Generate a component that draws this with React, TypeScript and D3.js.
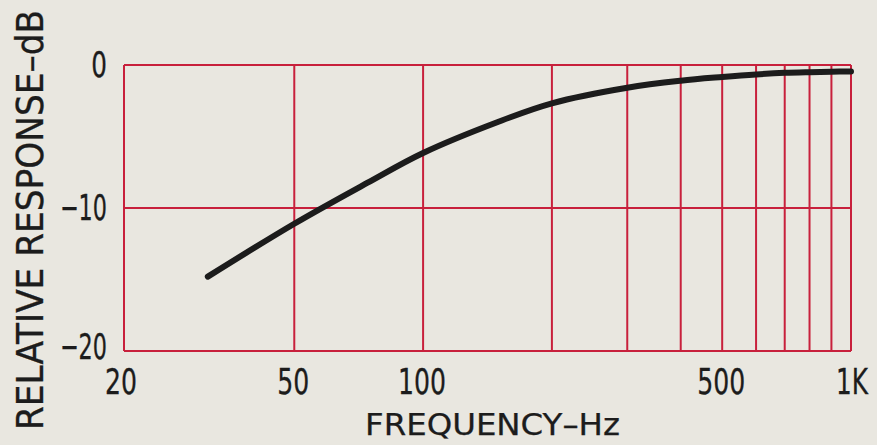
import React from "react";
import * as d3 from "d3";

const freqs = [31.4, 50, 74, 100, 149, 200, 300, 400, 500, 600, 700, 800, 900, 1000];
const response = [-14.8, -11.1, -8.25, -6.15, -4.0, -2.68, -1.59, -1.1, -0.84, -0.66, -0.55, -0.5, -0.47, -0.45];
const gridFreqs = [20, 50, 100, 200, 300, 400, 500, 600, 700, 800, 900, 1000];
const xTickVals = [20, 50, 100, 500, 1000];
const xTickLabels = ["20", "50", "100", "500", "1K"];
const yTickVals = [0, -10, -20];
const yTickLabels = ["0", "\u221210", "\u221220"];
const xTitle = "FREQUENCY\u2013Hz";
const yTitle = "RELATIVE RESPONSE\u2013dB";

const W = 877;
const H = 445;
const FONT = "'Liberation Sans Narrow', 'DejaVu Sans Condensed', 'Liberation Sans', Arial, sans-serif";

export default function App() {
  const x = d3.scaleLog().domain([20, 1000]).range([124, 851]);
  const y = d3.scaleLinear().domain([-20, 0]).range([351, 65]);
  const pts: [number, number][] = freqs.map((f, i) => [f, response[i]]);
  const line = d3
    .line<[number, number]>()
    .x((d) => x(d[0]))
    .y((d) => y(d[1]))
    .curve(d3.curveCatmullRom.alpha(0.5));
  const red = "#c8203c";
  const ink = "#1c1c1c";
  return (
    <svg
      width={W}
      height={H}
      style={{ position: "absolute", left: 0, top: 0, display: "block" }}
    >
      <rect x={0} y={0} width={W} height={H} fill="#e9e7e0" />
      {yTickVals.map((v) => (
        <line key={"h" + v} x1={x(20)} x2={x(1000)} y1={y(v)} y2={y(v)} stroke={red} strokeWidth={2} />
      ))}
      {gridFreqs.map((f) => (
        <line key={"v" + f} x1={x(f)} x2={x(f)} y1={y(0)} y2={y(-20)} stroke={red} strokeWidth={2} />
      ))}
      <path d={line(pts) || ""} fill="none" stroke={ink} strokeWidth={6} strokeLinecap="round" strokeLinejoin="round" />
      {yTickVals.map((v, i) => (
        <text
          key={"yl" + v}
          x={107}
          y={y(v) + (v === -20 ? 8 : 12)}
          textAnchor="end"
          fontFamily={FONT}
          fontSize={36}
          fill={ink}
          stroke={ink}
          strokeWidth={0.3}
          textLength={yTickLabels[i].length * 15.7}
          lengthAdjust="spacingAndGlyphs"
        >
          {yTickLabels[i]}
        </text>
      ))}
      {xTickVals.map((v, i) => (
        <text
          key={"xl" + v}
          x={x(v) + (i === 0 ? -3 : i === xTickVals.length - 1 ? 1 : -1)}
          y={394}
          textAnchor="middle"
          fontFamily={FONT}
          fontSize={36}
          fill={ink}
          stroke={ink}
          strokeWidth={0.3}
          textLength={xTickLabels[i].length * 16}
          lengthAdjust="spacingAndGlyphs"
        >
          {xTickLabels[i]}
        </text>
      ))}
      <text
        x={(x(20) + x(1000)) / 2 + 5}
        y={435}
        textAnchor="middle"
        fontFamily={FONT}
        fontSize={31}
        fill={ink}
        stroke={ink}
        strokeWidth={0.25}
        textLength={255}
        lengthAdjust="spacingAndGlyphs"
      >
        {xTitle}
      </text>
      <text
        transform={`translate(43,220) rotate(-90)`}
        textAnchor="middle"
        fontFamily={FONT}
        fontSize={37}
        fill={ink}
        stroke={ink}
        strokeWidth={0.3}
        textLength={420}
        lengthAdjust="spacingAndGlyphs"
      >
        {yTitle}
      </text>
    </svg>
  );
}
